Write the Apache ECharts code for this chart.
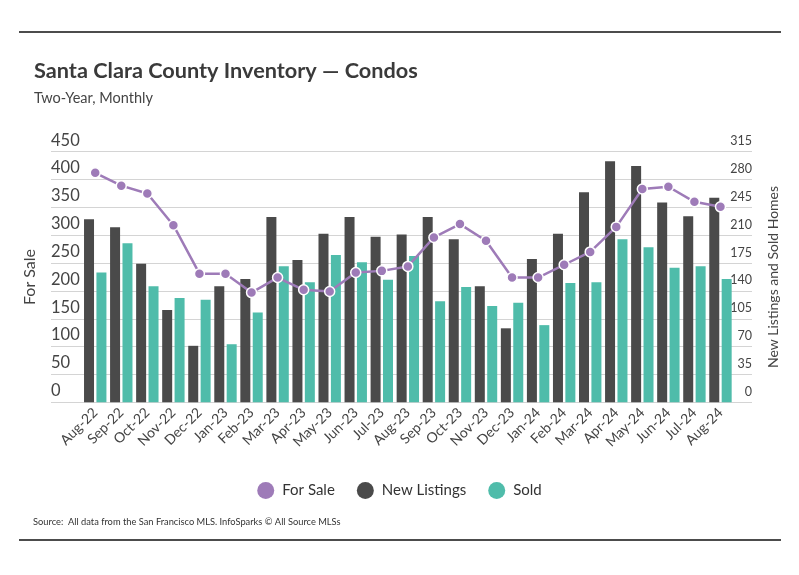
<!DOCTYPE html>
<html>
<head>
<meta charset="utf-8">
<script src="https://cdn.jsdelivr.net/npm/echarts@6/dist/echarts.min.js"></script>
<style>
html,body{margin:0;padding:0;background:#fff;}
#c{width:799px;height:575px;}
</style>
</head>
<body>
<div id="c"></div>
<script>
const categories = ['Aug-22','Sep-22','Oct-22','Nov-22','Dec-22','Jan-23','Feb-23','Mar-23','Apr-23','May-23','Jun-23','Jul-23','Aug-23','Sep-23','Oct-23','Nov-23','Dec-23','Jan-24','Feb-24','Mar-24','Apr-24','May-24','Jun-24','Jul-24','Aug-24'];
const forSale = [412, 389, 375, 318, 231, 231, 197, 224, 202, 199, 233, 236, 244, 296, 320, 290, 224, 224, 247, 270, 315, 383, 387, 360, 351];
const newListings = [230, 220, 174, 116, 71, 146, 155, 233, 179, 212, 233, 208, 211, 233, 205, 146, 93, 180, 212, 264, 303, 297, 251, 234, 257];
const sold = [163, 200, 146, 131, 129, 73, 113, 171, 151, 185, 176, 154, 184, 127, 145, 121, 125, 97, 150, 151, 205, 195, 169, 171, 155];
const leftTicks = {min: 0, max: 450, interval: 50};
const rightTicks = {min: 0, max: 315, interval: 35};

const FONT = 'Lato, "Open Sans", sans-serif';
const chart = echarts.init(document.getElementById('c'));
const gridTop = 151.7, gridBottom = 575 - 402.3;

chart.setOption({
  textStyle: {fontFamily: FONT},
  animation: false,
  title: {
    text: 'Santa Clara County Inventory — Condos',
    subtext: 'Two-Year, Monthly',
    left: 29, top: 55,
    itemGap: 9,
    textStyle: {fontFamily: FONT, fontSize: 21.7, fontWeight: 'bold', color: '#3a3a3a'},
    subtextStyle: {fontFamily: FONT, fontSize: 14.5, color: '#444'}
  },
  legend: {
    data: ['For Sale', 'New Listings', 'Sold'],
    left: 'center', top: 477,
    icon: 'circle', itemWidth: 17, itemHeight: 17, itemGap: 22,
    itemStyle: {borderWidth: 0},
    textStyle: {fontFamily: FONT, fontSize: 15, color: '#333', padding: [0, 0, 0, 3]}
  },
  graphic: [
    {type: 'line', shape: {x1: 19, y1: 32, x2: 781, y2: 32}, style: {stroke: '#111', lineWidth: 1.5}},
    {type: 'line', shape: {x1: 19, y1: 540, x2: 781, y2: 540}, style: {stroke: '#111', lineWidth: 1.5}},
    {type: 'text', left: 33, top: 517, style: {text: 'Source:  All data from the San Francisco MLS. InfoSparks © All Source MLSs', fontFamily: FONT, fontSize: 9.3, fill: '#333'}}
  ],
  grid: [
    {left: 51, right: 799 - 752, top: gridTop, bottom: gridBottom},
    {left: 82.2, right: 799 - 733.5, top: gridTop, bottom: gridBottom}
  ],
  xAxis: [
    {gridIndex: 0, type: 'value', min: 0, max: 1, show: false},
    {
      gridIndex: 1, type: 'category', data: categories,
      axisLine: {show: false}, axisTick: {show: false},
      axisLabel: {rotate: 45, interval: 0, fontSize: 14, color: '#444', margin: 8, fontFamily: FONT}
    }
  ],
  yAxis: [
    {
      gridIndex: 0, type: 'value', position: 'left', ...leftTicks,
      name: 'For Sale', nameLocation: 'middle', nameGap: 13, nameRotate: 90,
      nameTextStyle: {fontSize: 16, color: '#444', fontFamily: FONT},
      axisLine: {show: false}, axisTick: {show: false},
      axisLabel: {inside: true, margin: 0, verticalAlign: 'bottom', padding: [0, 0, 3, 0], fontSize: 16.5, color: '#444', fontFamily: FONT},
      splitLine: {show: true, lineStyle: {color: '#d4d4d4', width: 1.2}}
    },
    {
      gridIndex: 0, type: 'value', position: 'right', ...rightTicks,
      name: 'New Listings and Sold Homes', nameLocation: 'middle', nameGap: 14, nameRotate: 90,
      nameTextStyle: {fontSize: 14, color: '#444', fontFamily: FONT},
      axisLine: {show: false}, axisTick: {show: false},
      axisLabel: {inside: true, margin: 0, verticalAlign: 'bottom', padding: [0, 0, 4, 0], fontSize: 12.5, color: '#444', fontFamily: FONT},
      splitLine: {show: false}
    },
    {gridIndex: 1, type: 'value', position: 'left', ...leftTicks, show: false, splitLine: {show: false}},
    {gridIndex: 1, type: 'value', position: 'right', ...rightTicks, show: false, splitLine: {show: false}}
  ],
  series: [
    {
      name: 'New Listings', type: 'bar', xAxisIndex: 1, yAxisIndex: 3,
      data: newListings, barWidth: 10, barGap: '24%',
      itemStyle: {color: '#4a4a4a'}
    },
    {
      name: 'Sold', type: 'bar', xAxisIndex: 1, yAxisIndex: 3,
      data: sold, barWidth: 10, barGap: '24%',
      itemStyle: {color: '#4fbcaa'}
    },
    {
      name: 'For Sale', type: 'line', xAxisIndex: 1, yAxisIndex: 2,
      data: forSale, symbol: 'circle', symbolSize: 10, z: 5,
      lineStyle: {color: '#9e7bb8', width: 2.5},
      itemStyle: {color: '#9e7bb8', borderColor: '#fff', borderWidth: 1.5}
    }
  ]
});
</script>
</body>
</html>
